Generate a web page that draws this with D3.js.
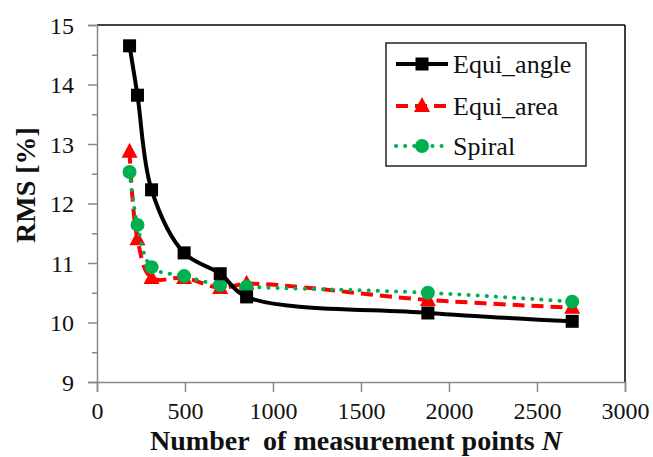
<!DOCTYPE html>
<html>
<head>
<meta charset="utf-8">
<script src="https://cdn.jsdelivr.net/npm/d3@7"></script>
<style>
  body { margin: 0; background: #fff; }
  text { font-family: "Liberation Serif", "Times New Roman", serif; fill: #111; }
</style>
</head>
<body>
<svg id="chart" width="653" height="457"></svg>
<script>
// Data
const nPoints = [185, 230, 310, 495, 700, 850, 1880, 2700];
const equiAngle = [14.65, 13.82, 12.23, 11.17, 10.82, 10.43, 10.16, 10.02];
const equiArea  = [12.87, 11.40, 10.75, 10.75, 10.58, 10.65, 10.38, 10.25];
const spiral    = [12.53, 11.64, 10.93, 10.78, 10.63, 10.60, 10.50, 10.35];
const xTicks = [0, 500, 1000, 1500, 2000, 2500, 3000];
const yTicks = [9, 10, 11, 12, 13, 14, 15];
const seriesNames = ["Equi_angle", "Equi_area", "Spiral"];

const svg = d3.select("#chart");
const plotLeft = 97, plotRight = 625, plotTop = 25, plotBottom = 382;

const x = d3.scaleLinear().domain([0, 3000]).range([plotLeft, plotRight]);
const y = d3.scaleLinear().domain([9, 15]).range([plotBottom, plotTop]);

// frame: top dark grey, right black
svg.append("line").attr("x1", plotLeft).attr("x2", plotRight).attr("y1", plotTop).attr("y2", plotTop)
   .attr("stroke", "#444").attr("stroke-width", 2);
svg.append("line").attr("x1", plotRight).attr("x2", plotRight).attr("y1", plotTop).attr("y2", plotBottom)
   .attr("stroke", "#000").attr("stroke-width", 1.5);

// y axis
const yAxis = svg.append("g").attr("transform", `translate(${plotLeft},0)`)
   .call(d3.axisLeft(y).tickValues(yTicks).tickSize(9).tickFormat(d3.format("d")));
svg.append("g").attr("transform", `translate(${plotLeft},0)`)
   .call(d3.axisLeft(y).tickValues(d3.range(9.5, 15, 1)).tickSize(5).tickFormat(""))
   .select(".domain").remove();

// x axis
const xAxis = svg.append("g").attr("transform", `translate(0,${plotBottom})`)
   .call(d3.axisBottom(x).tickValues(xTicks).tickSize(10).tickFormat(d3.format("d")));

svg.selectAll(".domain").attr("stroke", "#888").attr("stroke-width", 1.5);
svg.selectAll(".tick line").attr("stroke", "#888").attr("stroke-width", 1.5);
yAxis.selectAll(".tick text").attr("x", -23).attr("dy", "0.35em")
   .style("font-size", "24px").style("font-family", "Liberation Serif").attr("fill", "#111");
xAxis.selectAll(".tick text").attr("y", 0).attr("dy", 0)
   .attr("transform", "translate(0,37)")
   .style("font-size", "24px").style("font-family", "Liberation Serif").attr("fill", "#111");

// axis titles
svg.append("text")
   .attr("transform", "translate(35,185) rotate(-90)")
   .attr("text-anchor", "middle")
   .style("font-size", "28px").style("font-weight", "bold")
   .text("RMS [%]");

const xt = svg.append("text")
   .attr("x", 356).attr("y", 450)
   .attr("text-anchor", "middle")
   .attr("xml:space", "preserve")
   .style("white-space", "pre")
   .style("font-size", "28px").style("font-weight", "bold");
xt.append("tspan").text("Number  of measurement points ");
xt.append("tspan").style("font-style", "italic").text("N");

// series
const line = d3.line().x(d => x(d[0])).y(d => y(d[1])).curve(d3.curveCatmullRom.alpha(0.5));
const zip = vals => nPoints.map((n, i) => [n, vals[i]]);

const styles = [
  { name: seriesNames[0], vals: equiAngle, color: "#000", dash: null, cap: "butt", marker: "square" },
  { name: seriesNames[1], vals: equiArea, color: "#ff0000", dash: "12,7", cap: "butt", marker: "triangle" },
  { name: seriesNames[2], vals: spiral, color: "#00b050", dash: "0.1,9", cap: "round", marker: "circle" }
];

function drawMarker(g, type, color, cx, cy) {
  if (type === "square") {
    g.append("rect").attr("x", cx - 6.5).attr("y", cy - 6.5).attr("width", 13).attr("height", 13)
     .attr("fill", color);
  } else if (type === "triangle") {
    g.append("path").attr("d", `M${cx},${cy - 9}L${cx + 8},${cy + 6}L${cx - 8},${cy + 6}Z`)
     .attr("fill", color);
  } else {
    g.append("circle").attr("cx", cx).attr("cy", cy).attr("r", 7).attr("fill", color);
  }
}

const drawOrder = [1, 2, 0];
drawOrder.forEach(i => {
  const s = styles[i];
  const g = svg.append("g");
  g.append("path").datum(zip(s.vals)).attr("d", line)
   .attr("fill", "none").attr("stroke", s.color).attr("stroke-width", 4)
   .attr("stroke-dasharray", s.dash).attr("stroke-linecap", s.cap);
  zip(s.vals).forEach(d => drawMarker(g, s.marker, s.color, x(d[0]), y(d[1])));
});

// legend
const lg = svg.append("g");
lg.append("rect").attr("x", 386).attr("y", 43).attr("width", 200).attr("height", 123)
  .attr("fill", "#fff").attr("stroke", "#222").attr("stroke-width", 1.5);
const rowsY = [64, 106, 146];
styles.forEach((s, i) => {
  const yy = rowsY[i];
  lg.append("line").attr("x1", 396).attr("x2", 448).attr("y1", yy).attr("y2", yy)
    .attr("stroke", s.color).attr("stroke-width", 4)
    .attr("stroke-dasharray", s.dash).attr("stroke-linecap", s.cap);
  drawMarker(lg, s.marker, s.color, 422, yy);
  lg.append("text").attr("x", 453).attr("y", yy + 9)
    .style("font-size", "26px").text(s.name);
});
</script>
</body>
</html>
